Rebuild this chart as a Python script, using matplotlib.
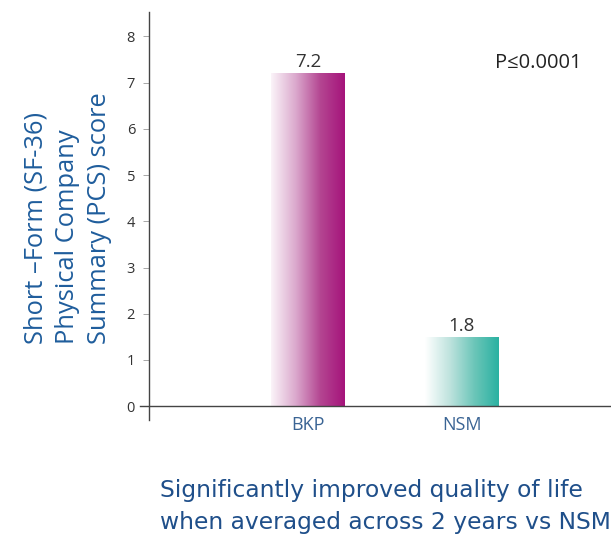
import matplotlib
matplotlib.use("Agg")
import matplotlib.pyplot as plt
import numpy as np
from matplotlib.colors import LinearSegmentedColormap

groups = ["BKP", "NSM"]
bar_heights = [7.2, 1.5]
value_labels = ["7.2", "1.8"]
yticks = [0, 1, 2, 3, 4, 5, 6, 7, 8]

grad_colors = [["#fbf4f9", "#dba9cd", "#b44692", "#a5137a"],
               ["#ffffff", "#bfe3de", "#6cc6b9", "#2ab1a1"]]

fig = plt.figure(figsize=(6.11, 5.36), dpi=100)
ax = fig.add_axes([140 / 611, 1 - 420 / 536, 471 / 611, 408 / 536])

x = np.arange(len(groups))
bars = ax.bar(x, bar_heights, width=0.48, color="none", edgecolor="none")

# gradient fill, clipped to each bar
grad = np.linspace(0, 1, 256).reshape(1, -1)
for b, cols in zip(bars, grad_colors):
    cmap = LinearSegmentedColormap.from_list("g", cols)
    x0, w, h = b.get_x(), b.get_width(), b.get_height()
    im = ax.imshow(grad, cmap=cmap, aspect="auto", extent=[x0, x0 + w, 0, h],
                   interpolation="bicubic", zorder=2)
    im.set_clip_path(b)

for xi, h, lab in zip(x, bar_heights, value_labels):
    ax.text(xi, h + 0.05, lab, ha="center", va="bottom", fontsize=13.5,
            color="#333333", family="Open Sans")

ax.text(1.78, 7.42, "P≤0.0001", ha="right", va="center", fontsize=14.5,
        color="#222222", family=["Open Sans", "DejaVu Sans"])

ax.set_xlim(-1.09, 1.97)
ax.set_ylim(-0.30, 8.53)
ax.spines["top"].set_visible(False)
ax.spines["right"].set_visible(False)
ax.spines["bottom"].set_position(("data", 0))
ax.spines["left"].set_position(("data", -1.032))
for s in ["bottom", "left"]:
    ax.spines[s].set_color("#444444")
    ax.spines[s].set_linewidth(1.0)

ax.set_yticks(yticks)
ax.set_yticklabels([str(t) for t in yticks], fontsize=10.5, color="#333333",
                   family="Open Sans")
ax.tick_params(axis="y", length=4, width=0.6, color="#999999", pad=6)
ax.set_xticks(x)
ax.set_xticklabels(groups, fontsize=13, color="#3a6494", family="Open Sans")
ax.tick_params(axis="x", length=0, pad=7)

fig.text(68 / 611, 1 - 218 / 536,
         "Short –Form (SF-36)\nPhysical Company\nSummary (PCS) score",
         rotation=90, ha="center", va="center", multialignment="left",
         fontsize=18.4, color="#1f5d9c", family="Open Sans", linespacing=1.35)

fig.text(160 / 611, 1 - 507 / 536,
         "Significantly improved quality of life\nwhen averaged across 2 years vs NSM",
         ha="left", va="center", fontsize=16.8, color="#1f4f8a", family="DejaVu Sans",
         linespacing=1.5)

fig.savefig("out.png", dpi=100)
